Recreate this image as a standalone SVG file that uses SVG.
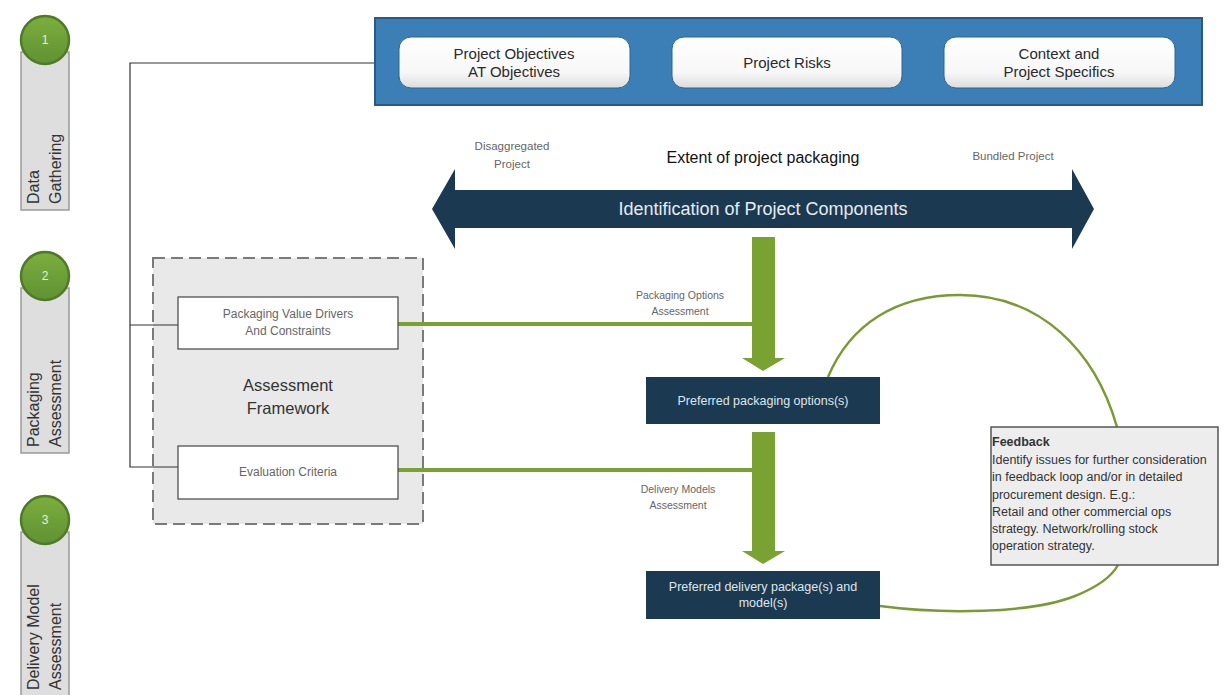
<svg xmlns="http://www.w3.org/2000/svg" width="1229" height="695" viewBox="0 0 1229 695">
<defs>
<linearGradient id="wg" x1="0" y1="0" x2="0" y2="1">
<stop offset="0" stop-color="#ffffff"/><stop offset="0.7" stop-color="#f7f7f7"/><stop offset="1" stop-color="#dcdcdc"/>
</linearGradient>
<linearGradient id="cg" x1="0" y1="0" x2="0" y2="1">
<stop offset="0" stop-color="#7cae3e"/><stop offset="1" stop-color="#5f9232"/>
</linearGradient>
</defs>
<style>
text{font-family:"Liberation Sans","DejaVu Sans",sans-serif}
.bar{fill:#dedede;stroke:#9a9a9a;stroke-width:1.5}
.circ{fill:url(#cg);stroke:#4f7a28;stroke-width:2.5}
.num{font-size:12px;fill:#e8f0d8;text-anchor:middle}
.side{font-size:16px;fill:#333}
.wbox{fill:url(#wg);stroke:#2f6690;stroke-width:1}
.wt{font-size:15px;fill:#2a2a2a;text-anchor:middle}
.sm{font-size:11.5px;fill:#666;text-anchor:middle}
.lab{font-size:10.5px;fill:#666;text-anchor:middle}
.navy{fill:#1b3a52}
.nt{font-size:12.5px;fill:#dfe6ec;text-anchor:middle}
.box{fill:#ffffff;stroke:#444;stroke-width:1.2}
.bt{font-size:12px;fill:#666;text-anchor:middle}
.green{fill:#7aa233}
.gl{stroke:#7aa233;stroke-width:4;fill:none}
.gc{stroke:#7a9a35;stroke-width:2.5;fill:none}
.blk{stroke:#333;stroke-width:1.2;fill:none}
.fb{font-size:12.5px;fill:#333}
</style>

<g id="stage1">
<rect class="bar" x="21" y="52" width="48" height="158"/>
<circle class="circ" cx="45" cy="40" r="24"/>
<text class="num" x="45" y="44">1</text>
<text class="side" transform="translate(39,204) rotate(-90)">Data</text>
<text class="side" transform="translate(61,204) rotate(-90)">Gathering</text>
</g>
<g id="stage2">
<rect class="bar" x="21" y="288" width="48" height="165"/>
<circle class="circ" cx="45" cy="276" r="24"/>
<text class="num" x="45" y="280">2</text>
<text class="side" transform="translate(39,447) rotate(-90)">Packaging</text>
<text class="side" transform="translate(61,447) rotate(-90)">Assessment</text>
</g>
<g id="stage3">
<rect class="bar" x="21" y="532" width="48" height="170"/>
<circle class="circ" cx="45" cy="520" r="24"/>
<text class="num" x="45" y="524">3</text>
<text class="side" transform="translate(39,690) rotate(-90)">Delivery Model</text>
<text class="side" transform="translate(61,690) rotate(-90)">Assessment</text>
</g>

<g id="framework">
<rect x="153" y="258" width="270" height="266" fill="#e9e9e9" stroke="#7a7a7a" stroke-width="2" stroke-dasharray="12,6"/>
<text x="288" y="391" font-size="16.5" fill="#333" text-anchor="middle">Assessment</text>
<text x="288" y="414" font-size="16.5" fill="#333" text-anchor="middle">Framework</text>
</g>

<g id="connectors">
<polyline class="blk" points="376,63 130,63 130,467 178,467"/>
<line class="blk" x1="130" y1="325" x2="178" y2="325"/>
<line class="gl" x1="398" y1="324" x2="754" y2="324"/>
<line class="gl" x1="398" y1="470" x2="754" y2="470"/>
<polygon class="green" points="752,237 775,237 775,358 785,358 763,371 742,358 752,358"/>
<polygon class="green" points="752,432 775,432 775,551 785,551 763,564 742,551 752,551"/>
<path class="gc" d="M 828 377 C 850 325, 895 295, 960 295 C 1040 295, 1095 350, 1117 427"/>
<path class="gc" d="M 880 606 C 940 614, 1030 614, 1075 596 C 1100 586, 1112 576, 1118 565"/>
</g>

<g id="inputs">
<rect x="375" y="18" width="827" height="87" fill="#3b7fb6" stroke="#2a5a80" stroke-width="2"/>
<g id="objectives">
<rect class="wbox" x="399" y="37" width="231" height="51" rx="12"/>
<text class="wt" x="514" y="59">Project Objectives</text>
<text class="wt" x="514" y="77">AT Objectives</text>
</g>
<g id="risks">
<rect class="wbox" x="672" y="37" width="230" height="51" rx="12"/>
<text class="wt" x="787" y="68">Project Risks</text>
</g>
<g id="context">
<rect class="wbox" x="944" y="37" width="231" height="51" rx="12"/>
<text class="wt" x="1059" y="59">Context and</text>
<text class="wt" x="1059" y="77">Project Specifics</text>
</g>
</g>

<g id="components">
<text class="sm" x="512" y="150">Disaggregated</text>
<text class="sm" x="512" y="168">Project</text>
<text x="763" y="163" font-size="16" fill="#111" text-anchor="middle">Extent of project packaging</text>
<text class="sm" x="1013" y="160">Bundled Project</text>
<polygon class="navy" points="432,209 455,169 455,190 1072,190 1072,169 1094,209 1072,249 1072,228 455,228 455,249"/>
<text x="763" y="215" font-size="18" fill="#e6ecf0" text-anchor="middle">Identification of Project Components</text>
</g>

<g id="drivers">
<rect class="box" x="178" y="297" width="220" height="52"/>
<text class="bt" x="288" y="318">Packaging Value Drivers</text>
<text class="bt" x="288" y="335">And Constraints</text>
</g>
<g id="criteria">
<rect class="box" x="178" y="446" width="220" height="53"/>
<text class="bt" x="288" y="476">Evaluation Criteria</text>
</g>

<text class="lab" x="680" y="299">Packaging Options</text>
<text class="lab" x="680" y="315">Assessment</text>
<text class="lab" x="678" y="493">Delivery Models</text>
<text class="lab" x="678" y="509">Assessment</text>

<g id="packaging-options">
<rect class="navy" x="646" y="377" width="234" height="47"/>
<text class="nt" x="763" y="405">Preferred packaging options(s)</text>
</g>
<g id="delivery-package">
<rect class="navy" x="646" y="571" width="234" height="48"/>
<text class="nt" x="763" y="591">Preferred delivery package(s) and</text>
<text class="nt" x="763" y="607">model(s)</text>
</g>

<g id="feedback">
<rect x="991" y="427" width="227" height="138" fill="#ededed" stroke="#555" stroke-width="1.5"/>
<text class="fb" x="992" y="446" font-weight="bold">Feedback</text>
<text class="fb" x="992" y="464">Identify issues for further consideration</text>
<text class="fb" x="992" y="481">in feedback loop and/or in detailed</text>
<text class="fb" x="992" y="499">procurement design. E.g.:</text>
<text class="fb" x="992" y="516">Retail and other commercial ops</text>
<text class="fb" x="992" y="533">strategy. Network/rolling stock</text>
<text class="fb" x="992" y="550">operation strategy.</text>
</g>
</svg>
